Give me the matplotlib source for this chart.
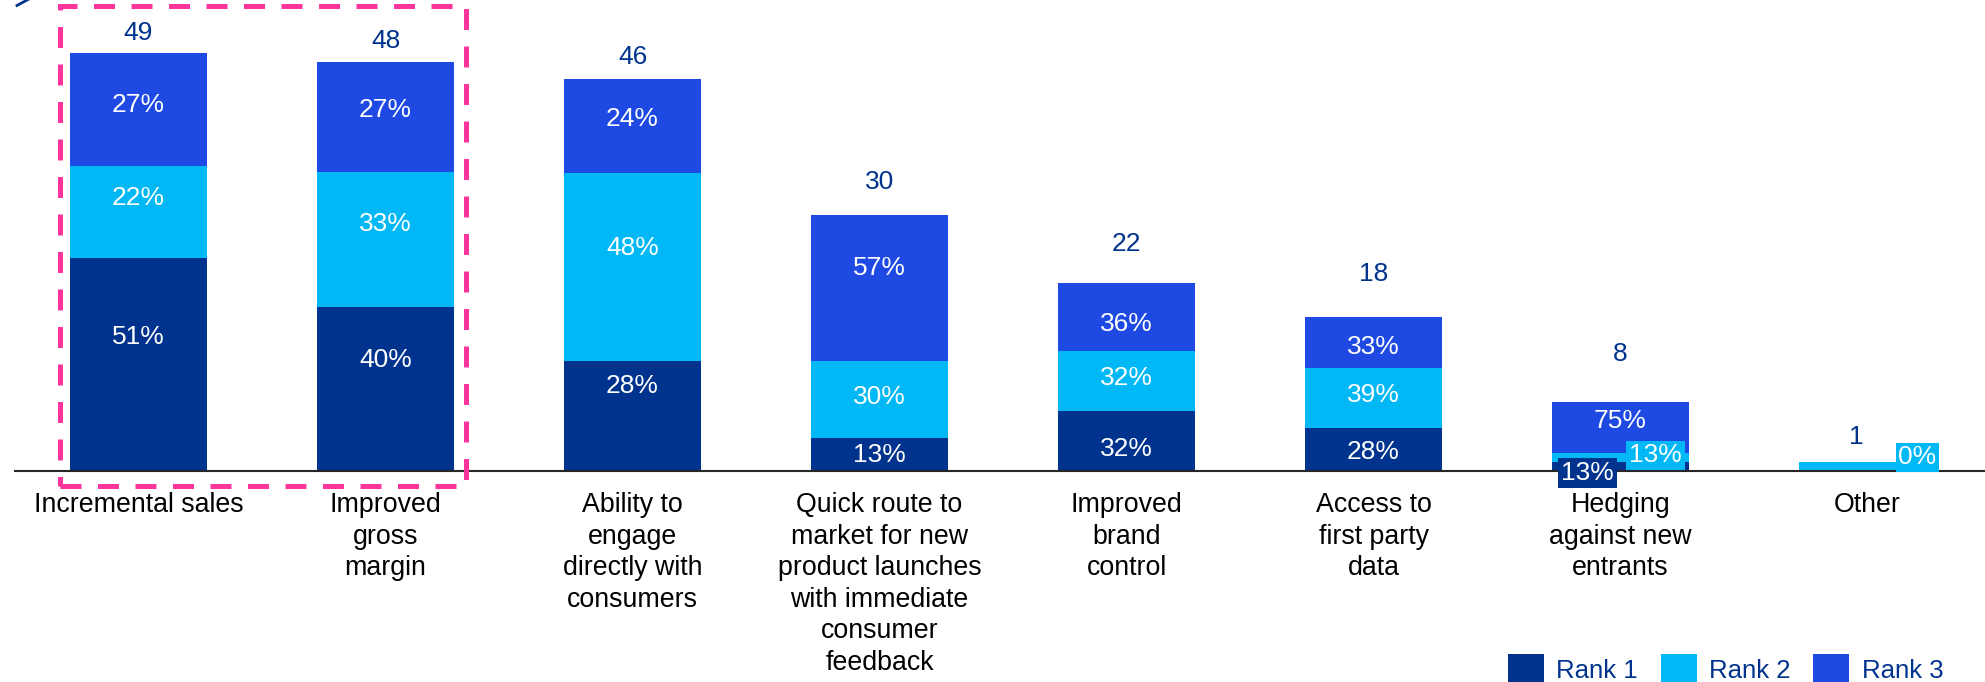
import matplotlib
matplotlib.use("Agg")
import matplotlib.pyplot as plt
from matplotlib.patches import Patch, Rectangle
from matplotlib.lines import Line2D

plt.rcParams['font.family'] = ['Liberation Sans', 'DejaVu Sans']
plt.rcParams['lines.scale_dashes'] = False

# ---- data -------------------------------------------------------------
categories = [
    "Incremental sales",
    "Improved\ngross\nmargin",
    "Ability to\nengage\ndirectly with\nconsumers",
    "Quick route to\nmarket for new\nproduct launches\nwith immediate\nconsumer\nfeedback",
    "Improved\nbrand\ncontrol",
    "Access to\nfirst party\ndata",
    "Hedging\nagainst new\nentrants",
    "Other",
]
totals = [49, 48, 46, 30, 22, 18, 8, 1]
rank1_pct = [51, 40, 28, 13, 32, 28, 13, 0]
rank2_pct = [22, 33, 48, 30, 32, 39, 13, 100]
rank3_pct = [27, 27, 24, 57, 36, 33, 75, 0]
series_names = ["Rank 1", "Rank 2", "Rank 3"]
label_text_override = {(7, 1): "0%"}

# ---- styling ----------------------------------------------------------
NAVY = "#00338D"
CYAN = "#00B8F5"
COBALT = "#1E49E2"
PINK = "#FD349C"
colors = [NAVY, CYAN, COBALT]

W, H = 1985, 682
fig = plt.figure(figsize=(W / 100, H / 100), dpi=100)
ax = fig.add_axes([0, 0, 1, 1])

px_per_x = 247.0
first_center_px = 138.5
px_per_y = 8.53
baseline_px = H - 471  # distance of zero line from the bottom edge

xmin = -first_center_px / px_per_x
ax.set_xlim(xmin, xmin + W / px_per_x)
ymin = -baseline_px / px_per_y
ax.set_ylim(ymin, ymin + H / px_per_y)
ax.axis("off")

bar_w = 137 / px_per_x
xs = list(range(len(categories)))
pcts = [rank1_pct, rank2_pct, rank3_pct]

# label nudges in pixels (upwards) for the in-bar percentages
seg_nudge = [
    [29.5, 16, 6.5],
    [32, 18, 9.5],
    [33, 21, 9],
    [1.5, 5, 22],
    [-5.5, 5, -4.5],
    [0, 6, -1.5],
    [0, 0, 9],
    [0, 0, 0],
]
# boxed labels: (bar, rank) -> (dx, dy) pixel offset from segment middle
boxed = {(6, 0): (-33, -4), (6, 1): (35, 5), (7, 1): (50, 12)}
total_lift = [22, 23.5, 24, 36, 41.5, 45.5, 51, 28]
total_dx = [0, 0, 0, 0, 0, 0, 0, -11]
FS = 19
half_cap = 0.716 * FS / 0.72 / 2

bottoms = [0.0] * len(xs)
for r in range(3):
    heights = [totals[i] * pcts[r][i] / 100 for i in xs]
    ax.bar(xs, heights, width=bar_w, bottom=bottoms, color=colors[r],
           zorder=2, linewidth=0, label=series_names[r])
    for i in xs:
        h = heights[i]
        if h <= 0:
            continue
        mid = bottoms[i] + h / 2
        txt = label_text_override.get((i, r), f"{pcts[r][i]}%")
        if (i, r) in boxed:
            dx, dy = boxed[(i, r)]
            ax.annotate(txt, (i, mid), xytext=(dx, dy - half_cap),
                        textcoords="offset pixels", ha="center", va="baseline",
                        color="white", fontsize=FS, zorder=5,
                        bbox=dict(boxstyle="square,pad=0.1", fc=colors[r], ec="none"))
        else:
            ax.annotate(txt, (i, mid), xytext=(0, seg_nudge[i][r] - half_cap),
                        textcoords="offset pixels", ha="center", va="baseline",
                        color="white", fontsize=FS, zorder=5)
    bottoms = [b + h for b, h in zip(bottoms, heights)]

for i in xs:
    ax.annotate(str(totals[i]), (i, bottoms[i]),
                xytext=(total_dx[i], total_lift[i] - half_cap),
                textcoords="offset pixels", ha="center", va="baseline",
                color=NAVY, fontsize=FS, zorder=5)

# zero line
ax.axhline(0, xmin=15 / W, xmax=1, color="#262626", lw=1.5, zorder=3)

# category labels
for i, name in enumerate(categories):
    ax.annotate(name, (i, 0), xytext=(0, -21), textcoords="offset pixels",
                ha="center", va="top", fontsize=19.3, color="black",
                linespacing=1.28)

# highlight box around the first two categories
fig.add_artist(Rectangle((59.5 / W, (H - 485.5) / H), 406 / W, 479 / H,
                         transform=fig.transFigure, fill=False, ec=PINK,
                         lw=3.6, linestyle=(0, (15.1, 11.9)), zorder=6))

# fragment of the heading bracket at the top-left
fig.add_artist(Line2D([17 / W, 28 / W], [(H - 5.5) / H, (H + 0.5) / H],
                      transform=fig.transFigure, color=NAVY, lw=2))

handles = [Patch(facecolor=c, edgecolor="none") for c in colors]
fig.legend(handles, series_names, loc="center left",
           bbox_to_anchor=(1508 / W, (H - 669) / H), bbox_transform=fig.transFigure,
           ncol=3, frameon=False, fontsize=18.5, labelcolor=NAVY,
           handlelength=1.4, handleheight=1.4, handletextpad=0.47,
           columnspacing=0.9, borderpad=0, borderaxespad=0)

fig.savefig("out.png", dpi=100)
